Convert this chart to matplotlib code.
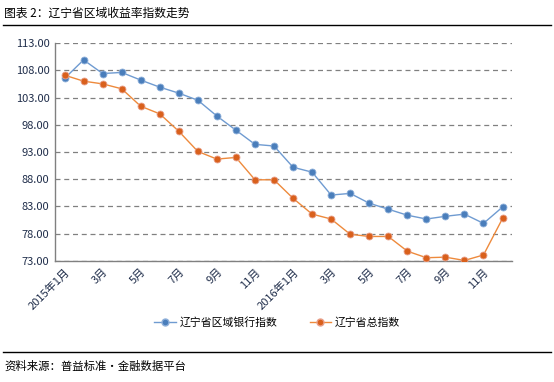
import matplotlib
matplotlib.use("Agg")
import matplotlib.pyplot as plt
from matplotlib.lines import Line2D
import numpy as np

plt.rcParams['font.family'] = ['Noto Sans CJK SC', 'DejaVu Sans']

months = ["2015年1月", "2月", "3月", "4月", "5月", "6月", "7月", "8月", "9月", "10月", "11月", "12月",
          "2016年1月", "2月", "3月", "4月", "5月", "6月", "7月", "8月", "9月", "10月", "11月", "12月"]
bank_index = [106.5, 109.9, 107.4, 107.6, 106.2, 104.9, 103.8, 102.5, 99.6, 97.0, 94.4, 94.1,
              90.2, 89.3, 85.1, 85.4, 83.6, 82.5, 81.4, 80.7, 81.2, 81.6, 79.9, 82.9]
total_index = [107.1, 106.0, 105.5, 104.6, 101.4, 100.0, 96.8, 93.1, 91.7, 92.0, 87.9, 87.9,
               84.5, 81.6, 80.7, 77.9, 77.5, 77.5, 74.8, 73.6, 73.7, 73.1, 74.1, 80.8]
yticks = [73, 78, 83, 88, 93, 98, 103, 108, 113]

blue_line, blue_mk = "#6F9BD1", "#4A7EBB"
orange_line, orange_mk = "#EE8A3C", "#D9601C"

fig = plt.figure(figsize=(5.54, 3.82), dpi=100)
ax = fig.add_axes([0.0993, 0.3168, 0.825, 0.5706])

x = np.arange(len(months))
ax.plot(x, bank_index, color=blue_line, lw=1.0, marker='o', ms=5,
        mfc=blue_mk, mec="#8FB0DA", mew=0.6, zorder=3)
ax.plot(x, total_index, color=orange_line, lw=1.0, marker='o', ms=5,
        mfc=orange_mk, mec="#E8A08A", mew=0.6, zorder=3)

ax.set_xlim(-0.5, len(months) - 0.5)
ax.set_ylim(73, 113)
ax.set_yticks(yticks)
ax.set_yticklabels([f"{v:.2f}" for v in yticks], fontsize=8, color="#1F2D4A")
ax.yaxis.grid(True, linestyle=(0, (4, 3)), color="#808080", lw=0.9)
ax.set_axisbelow(True)

ticks = x[::2]
ax.set_xticks(ticks)
ax.set_xticklabels([months[i] for i in ticks], rotation=45, ha='right',
                   rotation_mode='anchor', fontsize=8, color="#1F2D4A")
ax.tick_params(axis='both', length=0, pad=4)

for s in ['top', 'right']:
    ax.spines[s].set_visible(False)
for s in ['left', 'bottom']:
    ax.spines[s].set_color("#808080")
    ax.spines[s].set_linewidth(1.0)

handles = [
    Line2D([0], [0], color=blue_line, lw=1.0, marker='o', ms=5, mfc=blue_mk, mec="#8FB0DA"),
    Line2D([0], [0], color=orange_line, lw=1.0, marker='o', ms=5, mfc=orange_mk, mec="#E8A08A"),
]
fig.legend(handles, ["辽宁省区域银行指数", "辽宁省总指数"], loc='center',
           bbox_to_anchor=(0.5, 0.157), ncol=2, frameon=False, fontsize=7.8,
           handlelength=2.0, columnspacing=3.0, handletextpad=0.3)

# title and footer with rules
fig.text(0.008, 0.966, "图表 2：辽宁省区域收益率指数走势", fontsize=8.5, va='center', ha='left')
fig.add_artist(Line2D([0.005, 0.995], [0.934, 0.934], color='black', lw=1.0))
fig.add_artist(Line2D([0.005, 0.995], [0.079, 0.079], color='black', lw=1.0))
fig.text(0.008, 0.042, "资料来源：普益标准·金融数据平台", fontsize=8.2, va='center', ha='left')

fig.savefig("out.png", dpi=100)
